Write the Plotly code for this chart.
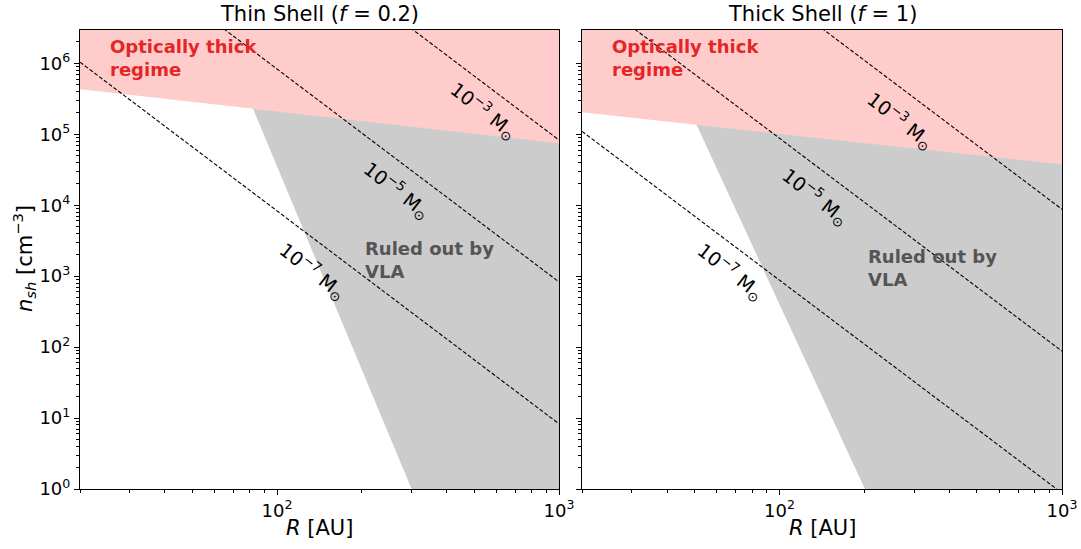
import plotly.graph_objects as go

# ---------------- data ----------------
R_ends = [20, 1000]                       # AU, ends of the mass lines
mass_labels = ["10<sup>−3</sup> M<sub>⊙</sub>", "10<sup>−5</sup> M<sub>⊙</sub>", "10<sup>−7</sup> M<sub>⊙</sub>"]

# thin shell (f = 0.2): density along constant-mass lines at R=20 and R=1000
thin_mass_n20 = [1.04e10, 1.04e8, 1.04e6]
thin_mass_n1000 = [8.3e4, 8.3e2, 8.3]
# thick shell (f = 1)
thick_mass_n20 = [1.1e9, 1.1e7, 1.1e5]
thick_mass_n1000 = [8.77e3, 87.7, 0.877]

# optically-thick boundary (n at R=20 and R=1000)
thin_opt_n = [4.3e5, 7.5e4]
thick_opt_n = [2.04e5, 3.74e4]

# VLA exclusion boundary (R at n=1e7 and n=0.1)
thin_vla_R = [55.3, 382]
thick_vla_R = [30.9, 262]
vla_n = [1e7, 0.1]

# label positions (log10 R, log10 n)
thin_lab_logR = [2.731, 2.425, 2.127]
thin_lab_logn = [5.34, 4.21, 3.07]
thick_lab_logR = [2.427, 2.126, 1.825]
thick_lab_logn = [5.20, 4.13, 3.07]

PINK = "#ffcccc"
GRAY = "#cccccc"
RED = "#e32626"
DGRAY = "#555555"
FONT = "DejaVu Sans"

fig = go.Figure()

panels = [
    dict(xa="x", ya="y", mass20=thin_mass_n20, mass1000=thin_mass_n1000, opt=thin_opt_n,
         vla=thin_vla_R, lab_R=thin_lab_logR, lab_n=thin_lab_logn, rule=(2.305, 3.225)),
    dict(xa="x2", ya="y2", mass20=thick_mass_n20, mass1000=thick_mass_n1000, opt=thick_opt_n,
         vla=thick_vla_R, lab_R=thick_lab_logR, lab_n=thick_lab_logn, rule=(2.306, 3.11)),
]

annotations = []
for p in panels:
    # VLA ruled-out region
    fig.add_trace(go.Scatter(
        x=[p["vla"][0], p["vla"][1], 3000, 3000], y=[vla_n[0], vla_n[1], vla_n[1], vla_n[0]],
        fill="toself", fillcolor=GRAY, line=dict(width=0), mode="lines",
        xaxis=p["xa"], yaxis=p["ya"], showlegend=False, hoverinfo="skip"))
    # optically thick region
    fig.add_trace(go.Scatter(
        x=[R_ends[0], R_ends[1], R_ends[1], R_ends[0]], y=[p["opt"][0], p["opt"][1], 1e8, 1e8],
        fill="toself", fillcolor=PINK, line=dict(width=0), mode="lines",
        xaxis=p["xa"], yaxis=p["ya"], showlegend=False, hoverinfo="skip"))
    # constant-mass lines
    for n20, n1000 in zip(p["mass20"], p["mass1000"]):
        fig.add_trace(go.Scatter(
            x=R_ends, y=[n20, n1000], mode="lines",
            line=dict(color="black", width=1.1, dash="4px,2px"),
            xaxis=p["xa"], yaxis=p["ya"], showlegend=False, hoverinfo="skip"))
    for txt, lx, ly in zip(mass_labels, p["lab_R"], p["lab_n"]):
        annotations.append(dict(text=txt, x=lx, y=ly, xref=p["xa"], yref=p["ya"],
                                showarrow=False, textangle=38, xanchor="center", yanchor="middle",
                                font=dict(family=FONT, size=19, color="black")))
    annotations.append(dict(text="<b>Optically thick<br>regime</b>", x=1.40, y=6.07,
                            xref=p["xa"], yref=p["ya"], showarrow=False, xanchor="left",
                            yanchor="middle", align="left",
                            font=dict(family=FONT, size=18, color=RED)))
    annotations.append(dict(text="<b>Ruled out by<br>VLA</b>", x=p["rule"][0], y=p["rule"][1],
                            xref=p["xa"], yref=p["ya"], showarrow=False, xanchor="left",
                            yanchor="middle", align="left",
                            font=dict(family=FONT, size=18, color=DGRAY)))

# titles / axis titles
W, H = 1081, 549
for cx, title in [((80 + 559) / 2, "Thin Shell (<i>f</i> = 0.2)"), ((582 + 1062) / 2, "Thick Shell (<i>f</i> = 1)")]:
    annotations.append(dict(text=title, x=cx / W, y=1 - 14 / H, xref="paper", yref="paper",
                            xanchor="center", yanchor="middle", showarrow=False,
                            font=dict(family=FONT, size=21, color="black")))
    annotations.append(dict(text="<i>R</i> [AU]", x=cx / W, y=1 - 528 / H, xref="paper", yref="paper",
                            xanchor="center", yanchor="middle", showarrow=False,
                            font=dict(family=FONT, size=21, color="black")))
annotations.append(dict(text="<i>n<sub>sh</sub></i> [cm<sup>−3</sup>]", x=24 / W, y=1 - 259 / H,
                        xref="paper", yref="paper", xanchor="center", yanchor="middle",
                        showarrow=False, textangle=-90,
                        font=dict(family=FONT, size=21, color="black")))

x_major = [100, 1000]
x_major_text = ["10<sup>2</sup>", "10<sup>3</sup>"]
x_minor = [20, 30, 40, 50, 60, 70, 80, 90, 200, 300, 400, 500, 600, 700, 800, 900]
y_major = [1, 10, 100, 1e3, 1e4, 1e5, 1e6]
y_major_text = ["10<sup>%d</sup>" % i for i in range(7)]
y_minor = [m * 10 ** d for d in range(7) for m in range(2, 10)]

ax_common = dict(type="log", showgrid=False, zeroline=False, showline=True, linecolor="black",
                 linewidth=1.2, mirror=True, ticks="outside", ticklen=5, tickwidth=1,
                 tickcolor="black", automargin=False,
                 tickfont=dict(family=FONT, size=18, color="black"),
                 minor=dict(ticks="outside", ticklen=3, tickwidth=0.8, tickcolor="black", showgrid=False))

ydom = [1 - 489 / H, 1 - 30 / H]
fig.update_layout(
    width=W, height=H, margin=dict(l=0, r=0, t=0, b=0, autoexpand=False),
    plot_bgcolor="white", paper_bgcolor="white", showlegend=False,
    annotations=annotations,
    xaxis=dict(ax_common, domain=[80 / W, 559 / W], range=[1.30103, 3], anchor="y",
               tickvals=x_major, ticktext=x_major_text, minor=dict(ax_common["minor"], tickvals=x_minor)),
    xaxis2=dict(ax_common, domain=[582 / W, 1062 / W], range=[1.30103, 3], anchor="y2",
                tickvals=x_major, ticktext=x_major_text, minor=dict(ax_common["minor"], tickvals=x_minor)),
    yaxis=dict(ax_common, domain=ydom, range=[0, 6.47], anchor="x",
               tickvals=y_major, ticktext=y_major_text, minor=dict(ax_common["minor"], tickvals=y_minor)),
    yaxis2=dict(ax_common, domain=ydom, range=[0, 6.47], anchor="x2", showticklabels=False,
                tickvals=y_major, ticktext=y_major_text, minor=dict(ax_common["minor"], tickvals=y_minor)),
)

fig.write_html("out.html", config={"displayModeBar": False},
               post_script="document.body.style.margin='0';document.body.style.overflow='hidden';")
